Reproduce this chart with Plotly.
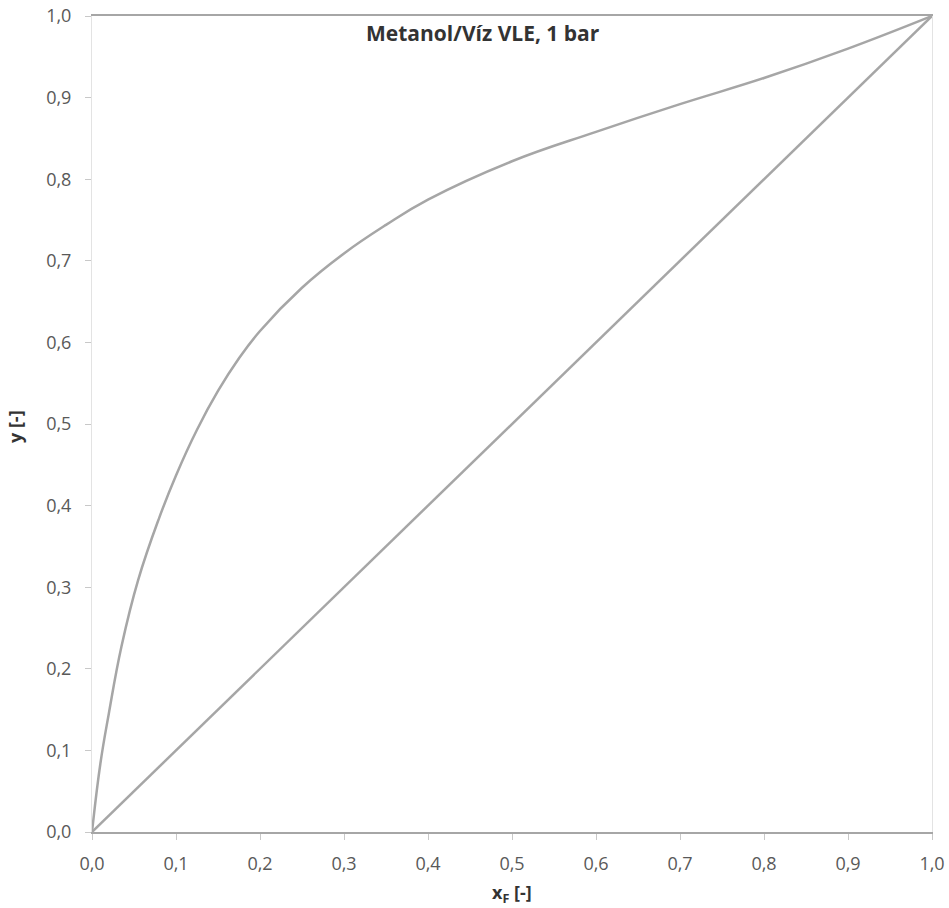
import plotly.graph_objects as go

# Equilibrium curve (methanol/water, 1 bar)
x_liq = [0.0, 0.01, 0.02, 0.035, 0.055, 0.08, 0.1, 0.125, 0.15, 0.175, 0.2,
         0.25, 0.3, 0.35, 0.4, 0.5, 0.6, 0.7, 0.8, 0.9, 1.0]
y_vap = [0.0, 0.084, 0.145, 0.227, 0.309, 0.385, 0.437, 0.493, 0.5405, 0.5805, 0.614,
         0.667, 0.709, 0.744, 0.775, 0.822, 0.858, 0.892, 0.924, 0.960, 1.0]

# Diagonal y = x
diag_x = [0.0, 1.0]
diag_y = [0.0, 1.0]

tick_vals = [0.0, 0.1, 0.2, 0.3, 0.4, 0.5, 0.6, 0.7, 0.8, 0.9, 1.0]

title_text = "<b>Metanol/Víz VLE, 1 bar</b>"
x_title = "<b>x<sub>F</sub> [-]</b>"
y_title = "<b>y [-]</b>"

line_color = "#A6A6A6"
text_color = "#595959"
title_color = "#333333"
font_family = "Open Sans, Noto Sans, sans-serif"

fig = go.Figure()
fig.add_trace(go.Scatter(x=x_liq, y=y_vap, mode="lines",
                         line=dict(color=line_color, width=2.5, shape="spline", smoothing=1.2),
                         showlegend=False, hoverinfo="skip"))
fig.add_trace(go.Scatter(x=diag_x, y=diag_y, mode="lines",
                         line=dict(color=line_color, width=2.5),
                         showlegend=False, hoverinfo="skip"))

fig.update_layout(
    width=949, height=908,
    margin=dict(l=92, r=17, t=16, b=76, autoexpand=False),
    paper_bgcolor="white", plot_bgcolor="white",
    separators=", ",
    font=dict(family=font_family, color=text_color, size=18),
    annotations=[
        dict(text=title_text, x=0.465, y=0.979, xref="paper", yref="paper",
             showarrow=False, xanchor="center", yanchor="middle",
             font=dict(size=21, color=title_color, family=font_family)),
        dict(text=x_title, x=0.5, y=-0.075, xref="paper", yref="paper",
             showarrow=False, xanchor="center", yanchor="middle",
             font=dict(size=18, color=title_color, family=font_family)),
        dict(text=y_title, x=-0.091, y=0.497, xref="paper", yref="paper",
             showarrow=False, xanchor="center", yanchor="middle", textangle=-90,
             font=dict(size=18, color=title_color, family=font_family)),
    ],
)

fig.update_xaxes(range=[0, 1], tickvals=tick_vals, tickformat=".1f",
                 showgrid=False, zeroline=False, automargin=False,
                 showline=True, linecolor="#A6A6A6", linewidth=2, mirror=True,
                 ticks="outside", ticklen=6, tickcolor="#C8C8C8", tickwidth=1,
                 ticklabelstandoff=8, ticklabeloverflow="allow",
                 tickfont=dict(size=18, color=text_color))
fig.update_yaxes(range=[0, 1], tickvals=tick_vals, tickformat=".1f",
                 showgrid=False, zeroline=False, automargin=False,
                 showline=True, linecolor="#E3E3E3", linewidth=1, mirror=True,
                 ticks="outside", ticklen=6, tickcolor="#C8C8C8", tickwidth=1,
                 ticklabelstandoff=10, ticklabeloverflow="allow",
                 tickfont=dict(size=18, color=text_color))

fig.write_html("out.html", config={"displayModeBar": False},
               post_script="document.body.style.margin='0';document.body.style.overflow='hidden';")
